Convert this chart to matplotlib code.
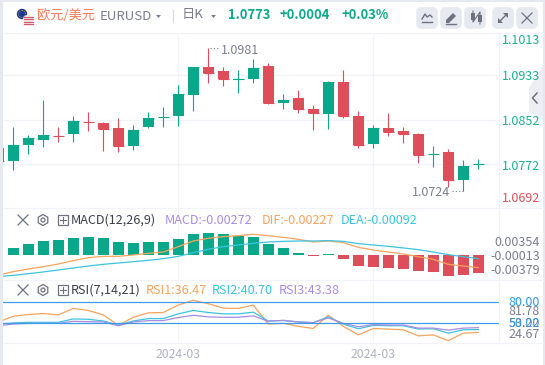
import numpy as np
import matplotlib
matplotlib.use("Agg")
import matplotlib.pyplot as plt
from matplotlib.patches import Circle, Rectangle, FancyBboxPatch, Polygon, RegularPolygon

plt.rcParams['font.family'] = ['Noto Sans CJK SC', 'DejaVu Sans']

# ---- data ----
opens = [1.08013, 1.07784, 1.08067, 1.08156, 1.08232, 1.08264, 1.08484, 1.08467, 1.08372, 1.08049, 1.0839,
         1.08566, 1.08588, 1.08965, 1.09469, 1.09397, 1.09243, 1.09253, 1.09486, 1.08821, 1.08911, 1.08714,
         1.08624, 1.09199, 1.08588, 1.08085, 1.08372, 1.08318, 1.08264, 1.07901, 1.07941, 1.07438, 1.0772]
highs = [1.08157, 1.08396, 1.08246, 1.08875, 1.08396, 1.08588, 1.08665, 1.0848, 1.08552, 1.08426, 1.0866,
         1.0875, 1.09145, 1.09475, 1.0981, 1.09469, 1.09415, 1.09612, 1.0954, 1.08983, 1.09055, 1.08785,
         1.09217, 1.09415, 1.08678, 1.08426, 1.08642, 1.0839, 1.08282, 1.08049, 1.07995, 1.07797, 1.07815]
lows = [1.07707, 1.07617, 1.07905, 1.08036, 1.08126, 1.08126, 1.08324, 1.07959, 1.07941, 1.07977, 1.08372,
        1.0839, 1.08408, 1.08678, 1.09181, 1.09127, 1.09001, 1.09181, 1.08803, 1.08714, 1.08642, 1.08336,
        1.08354, 1.08552, 1.08013, 1.08013, 1.08228, 1.08103, 1.07743, 1.07671, 1.07312, 1.0724, 1.07635]
closes = [1.07779, 1.08067, 1.08192, 1.08246, 1.08228, 1.08498, 1.0848, 1.08354, 1.08049, 1.08336, 1.08552,
          1.0857, 1.08983, 1.09469, 1.09361, 1.09253, 1.09247, 1.09451, 1.08821, 1.08875, 1.08714, 1.08642,
          1.09199, 1.08588, 1.08067, 1.08372, 1.083, 1.08264, 1.07887, 1.07905, 1.07438, 1.07689, 1.0773]

macd = [0.0, 0.00104, 0.00163, 0.00207, 0.00222, 0.00251, 0.00266, 0.00251, 0.00192, 0.00177, 0.00192,
        0.00192, 0.00237, 0.00311, 0.00325, 0.00311, 0.00281, 0.00266, 0.00163, 0.00104, 0.0003, -0.0002,
        0.0001, -0.00059, -0.00163, -0.00177, -0.00192, -0.00207, -0.00237, -0.00251, -0.00311, -0.00296, -0.00272]
dif = [-0.00296, -0.00247, -0.00207, -0.00173, -0.00133, -0.00084, -0.00039, -0.0002, -0.0002, 0.0, 0.00025,
       0.00044, 0.00123, 0.00207, 0.00247, 0.00271, 0.00286, 0.00306, 0.00286, 0.00261, 0.00232, 0.00192,
       0.00207, 0.00182, 0.00113, 0.00074, 0.00044, 0.00015, -0.00025, -0.00064, -0.00138, -0.00163, -0.00187]
dea = [-0.0032, -0.00301, -0.00276, -0.00251, -0.00222, -0.00192, -0.00163, -0.00138, -0.00118, -0.00099, -0.00079,
       -0.00054, -0.0002, 0.00035, 0.00084, 0.00123, 0.00148, 0.00173, 0.00192, 0.00202, 0.00207, 0.00207,
       0.00212, 0.00202, 0.00168, 0.00148, 0.00128, 0.00104, 0.00079, 0.00044, 0.00005, -0.00025, -0.00054]

rsi1 = [51.5, 59.7, 62.1, 63.6, 61.6, 70.8, 67.9, 61.6, 46.6, 58.2, 64.5, 65.0, 75.7, 82.5, 77.6, 71.3, 70.8,
        75.7, 48.5, 49.5, 45.2, 42.2, 61.1, 45.2, 33.0, 42.2, 41.3, 40.3, 31.6, 33.0, 24.8, 35.5, 36.47]
rsi2 = [48.5, 50.0, 51.0, 51.0, 51.0, 55.8, 55.3, 52.9, 47.1, 52.9, 56.3, 56.3, 63.1, 67.9, 65.0, 63.1, 63.1,
        65.5, 52.9, 53.4, 51.5, 50.5, 58.7, 48.5, 41.8, 46.6, 46.1, 46.1, 41.3, 41.8, 35.5, 40.3, 40.7]
rsi3 = [46.1, 48.5, 49.5, 49.5, 49.5, 52.4, 51.9, 51.5, 46.1, 51.5, 53.4, 53.4, 57.8, 61.1, 58.7, 58.2, 58.2,
        60.2, 52.4, 53.9, 51.5, 50.5, 57.3, 49.5, 44.7, 47.6, 47.1, 47.1, 42.7, 42.7, 39.8, 42.7, 43.38]
rsi_levels = [80, 50]

date_ticks = [12, 25]
date_labels = ['2024-03', '2024-03']
price_grid = [1.0933, 1.0852, 1.0772]

# ---- colours ----
UP = '#0aa88a'
DOWN = '#de4e5a'
GRID = '#f2f3f8'
ORANGE = '#f8a45c'
CYAN = '#3cc3de'
PURPLE = '#a98ce2'
GREY = '#7c7f8e'
ICON = '#6e7180'
CHROME = '#e6e9f0'

W, H = 545, 365
fig = plt.figure(figsize=(W / 100, H / 100), dpi=100, facecolor='white')


def panel(top, bottom):
    # axes placed by pixel rows
    ax = fig.add_axes([3 / W, 1 - bottom / H, 496 / W, (bottom - top) / H])
    ax.set_xlim(0.3133, 33.38)
    for s in ax.spines.values():
        s.set_visible(False)
    ax.tick_params(length=0, labelleft=False, labelbottom=False)
    ax.set_xticks(date_ticks)
    ax.grid(axis='x', color=GRID, lw=0.9)
    ax.set_axisbelow(True)
    return ax


# ---- candles ----
ax1 = panel(33, 208)
ax1.set_ylim(1.06934, 1.1008)
ax1.set_yticks(price_grid)
ax1.grid(axis='y', color=GRID, lw=0.9)
x = np.arange(len(closes))
o, hi, lo, c = map(np.array, (opens, highs, lows, closes))
cols = [UP if b >= a else DOWN for a, b in zip(o, c)]
ax1.vlines(x, lo, hi, colors=cols, lw=0.8)
ax1.bar(x, np.abs(c - o), bottom=np.minimum(o, c), width=0.73, color=cols, lw=0)
ax1.hlines(c, x - 0.365, x + 0.365, colors=cols, lw=0.8)

# ---- MACD ----
ax2 = panel(208, 279)
ax2.set_ylim(-0.00355, 0.00695)
m = np.array(macd)
ax2.bar(x, m, width=0.73, color=[UP if v >= 0 else DOWN for v in m], lw=0)
ax2.plot(x, dif, color=ORANGE, lw=0.9)
ax2.plot(x, dea, color=CYAN, lw=0.9)

# ---- RSI ----
ax3 = panel(279, 343)
ax3.set_ylim(21.4, 112.9)
ax3.plot(x, rsi1, color=ORANGE, lw=0.9)
ax3.plot(x, rsi2, color=CYAN, lw=0.9)
ax3.plot(x, rsi3, color=PURPLE, lw=0.9)
for lv in rsi_levels:
    ax3.axhline(lv, color='#3d9be9', lw=0.9)
ax3.set_xticklabels(date_labels)
ax3.tick_params(labelbottom=True, labelsize=8.8, labelcolor='#b1b4c0', pad=3.5)

# ---- overlay in pixel coordinates: window chrome and labels ----
ov = fig.add_axes([0, 0, 1, 1], facecolor='none', zorder=5)
ov.set_xlim(0, W)
ov.set_ylim(H, 0)
ov.axis('off')

ov.add_patch(Rectangle((0, 0), W, 2, color=CHROME, lw=0))
ov.add_patch(Rectangle((0, 0), 3, H, color=CHROME, lw=0))
ov.add_patch(Rectangle((543, 0), 2, H, color=CHROME, lw=0))

for yy in (33, 208, 279.5, 343):
    ov.plot([3, 543], [yy, yy], color=GRID, lw=0.9)
ov.plot([499, 499], [33, 343], color=GRID, lw=0.9)

# side handle
ov.add_patch(Polygon([(543, 66), (529, 88), (529, 111), (543, 121)], color='#eceef3', lw=0, zorder=1))
ov.plot([537, 532.5, 537], [93, 98, 103], color=ICON, lw=1.1, zorder=2)


def label(px, py, s, color, size=9.0, ha='left', **kw):
    ov.text(px, py, s, color=color, fontsize=size, ha=ha, va='center', zorder=4, **kw)


# flags
ov.add_patch(Circle((22, 14), 5.2, color='#1d3c91', lw=0, zorder=2))
ov.add_patch(Circle((22, 14), 3.4, facecolor='none', edgecolor='#d9b52c', lw=0.6, ls=(0, (1, 1.5)), zorder=2))
ov.add_patch(Circle((28, 20), 5.2, color='#f3f1f1', lw=0, zorder=3))
for yy in (16.5, 19, 21.5, 24):
    ov.plot([23.5, 32.5], [yy, yy], color='#d6566a', lw=0.9, zorder=3)

label(37, 15, '欧元/美元', '#f97d58', 9.5)
label(99.5, 16, 'EURUSD', GREY, 9.5)
label(182, 14.5, '日K', GREY, 9.5)
ov.add_patch(Polygon([(156, 15), (161, 15), (158.5, 18)], color=GREY, lw=0))
ov.add_patch(Polygon([(211, 15), (216, 15), (213.5, 18)], color=GREY, lw=0))
ov.plot([172.5, 172.5], [10, 22], color='#d5d7de', lw=0.8)
label(228, 15, '1.0773', UP, 9.3, fontweight='bold')
label(280, 15, '+0.0004', UP, 9.3, fontweight='bold')
label(341, 15, '+0.03%', UP, 9.3, fontweight='bold')

# toolbar buttons
for bx in (417, 441, 465, 493, 517):
    ov.add_patch(FancyBboxPatch((bx + 2, 10), 16, 16, boxstyle='round,pad=0,rounding_size=2', mutation_aspect=1,
                                facecolor=CHROME, edgecolor=CHROME, lw=4))
ov.plot([422, 425, 427, 430, 432], [19, 14, 17, 15, 17], color=ICON, lw=1)
ov.plot([422, 432], [22, 22], color=ICON, lw=1)
ov.add_patch(Polygon([(446, 20), (453, 13), (456, 16), (449, 23), (446, 23)], color=ICON, lw=0))
ov.plot([446, 456], [24, 24], color=ICON, lw=1)
ov.add_patch(Rectangle((471, 13), 4, 7, color=ICON, lw=0))
ov.add_patch(Rectangle((478, 15), 4, 7, color=ICON, lw=0))
ov.plot([473, 473, 480, 480], [11, 22, 12, 24], color=ICON, lw=0.8)
ov.plot([499, 507], [22, 14], color=ICON, lw=1)
ov.add_patch(Polygon([(503, 13), (508, 13), (508, 18)], color=ICON, lw=0))
ov.add_patch(Polygon([(498, 18), (498, 23), (503, 23)], color=ICON, lw=0))
ov.plot([522, 532], [13, 23], color=ICON, lw=0.9)
ov.plot([522, 532], [23, 13], color=ICON, lw=0.9)

# price axis labels
for py, s, col in [(40.5, '1.1013', '#1cb195'), (77, '1.0933', '#1cb195'), (121.5, '1.0852', '#1cb195'),
                   (166, '1.0772', '#1cb195'), (199, '1.0692', DOWN)]:
    label(540, py, s, col, ha='right')
label(221, 51, '1.0981', GREY)
label(450, 193, '1.0724', GREY, ha='right')
ov.plot([210, 220], [48, 48], color=GREY, lw=0.8, ls=(0, (1, 2)))
ov.plot([452, 464], [190.5, 190.5], color=GREY, lw=0.8, ls=(0, (1, 2)))

# panel header rows
for ry, name, items in [
    (220, 'MACD(12,26,9)', [(165, 'MACD:-0.00272', PURPLE), (262, 'DIF:-0.00227', ORANGE), (341, 'DEA:-0.00092', CYAN)]),
    (290, 'RSI(7,14,21)', [(146, 'RSI1:36.47', ORANGE), (212, 'RSI2:40.70', CYAN), (279, 'RSI3:43.38', PURPLE)]),
]:
    ov.plot([18, 28], [ry - 5, ry + 5], color=ICON, lw=0.9)
    ov.plot([18, 28], [ry + 5, ry - 5], color=ICON, lw=0.9)
    ov.add_patch(RegularPolygon((43, ry), 6, radius=5.5, facecolor='none', edgecolor=ICON, lw=0.9))
    ov.add_patch(Circle((43, ry), 2, facecolor='none', edgecolor=ICON, lw=0.9))
    ov.add_patch(Rectangle((58, ry - 5), 10, 10, facecolor='none', edgecolor=ICON, lw=0.9))
    ov.plot([60, 66], [ry, ry], color=ICON, lw=0.8)
    ov.plot([63, 63], [ry - 3, ry + 3], color=ICON, lw=0.8)
    label(71, ry, name, '#3c3f4a', 9.1)
    for px, s, col in items:
        label(px, ry, s, col, 9.1)

# MACD scale
for py, s in [(242.7, '0.00354'), (256.7, '-0.00013'), (270.7, '-0.00379')]:
    label(540, py, s, GREY, ha='right')

# RSI scale, overlapping as in the source
label(540, 303, '80.00', '#2f97ee', ha='right')
label(540, 311.5, '81.78', GREY, ha='right')
label(540, 323.5, '53.22', GREY, ha='right')
label(540, 323.5, '50.00', '#2f97ee', ha='right')
label(540, 335, '24.67', GREY, ha='right')

plt.savefig('out.png', dpi=100)
